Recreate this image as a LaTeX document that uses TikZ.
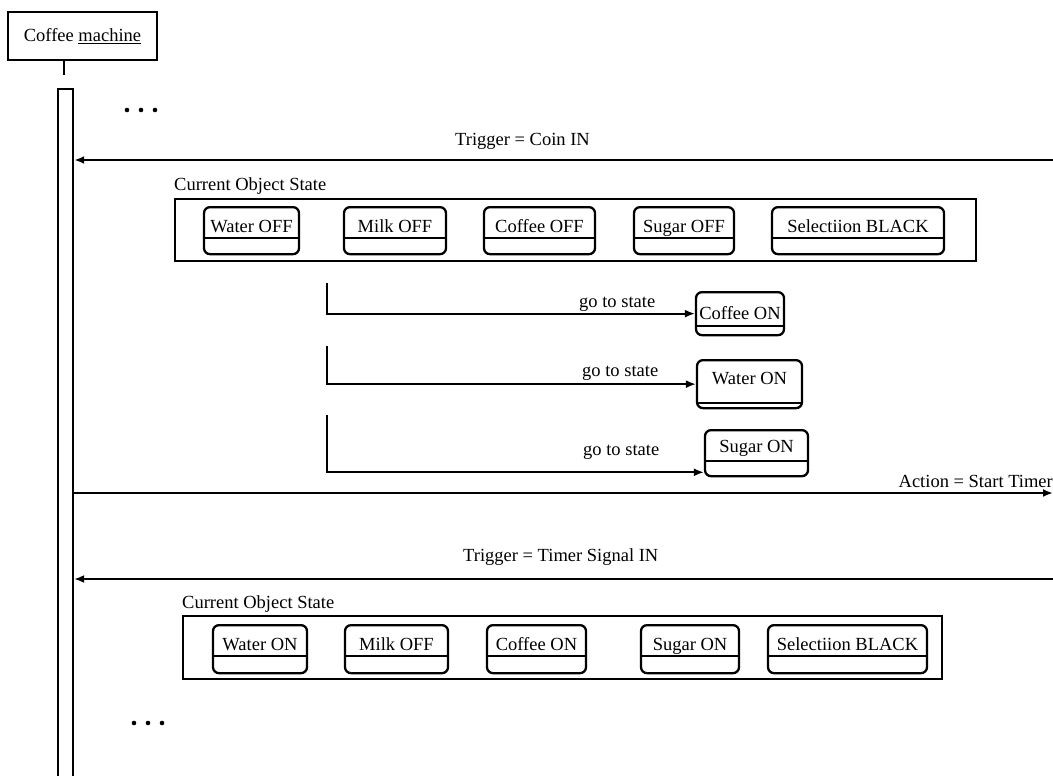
\documentclass[tikz,border=0pt]{standalone}
\usepackage{fontspec}
\setmainfont{Liberation Serif}
\usetikzlibrary{arrows.meta,calc}

\tikzset{
  every node/.style={font=\fontsize{18.5}{22}\selectfont, inner sep=0pt},
  frame/.style={draw, line width=1.8pt, anchor=north west},
  % state box: #1 text height, #2 text depth, #3 height of the divider above the bottom
  sbox/.style n args={3}{draw, line width=2.3pt, rounded corners=6pt, anchor=north,
    text height=#1pt, text depth=#2pt,
    path picture={\draw[line width=2pt]
      ([yshift=#3pt]path picture bounding box.south west) --
      ([yshift=#3pt]path picture bounding box.south east);}},
  msg/.style={line width=1.8pt, -{Latex[length=10pt,width=8pt]}},
  dot/.style={fill=black},
}

\begin{document}
\begin{tikzpicture}[x=1pt, y=-1pt]
\useasboundingbox (0,0) rectangle (1053,776);

% object head and lifeline
\node[draw, line width=2.2pt, minimum width=149pt, minimum height=48pt] (cm) at (82.5,36) {Coffee \underline{machine}};
\coordinate (cmEnd) at (64,75);
\draw[line width=1.5pt] (cm.south -| cmEnd) -- (cmEnd);
\node[draw, line width=2.4pt, fill=white, anchor=north, minimum width=15pt, minimum height=720pt] (life) at (65.5,88) {};

% ellipsis marks
\fill[dot] (127,110) circle (2.3pt) (141,110) circle (2.3pt) (155,110) circle (2.3pt);
\fill[dot] (134,723) circle (2.3pt) (148,723) circle (2.3pt) (162,723) circle (2.3pt);

% incoming trigger: coin
\coordinate (coinR) at (1053,160);
\draw[msg, line width=2.2pt] (coinR) -- (coinR -| life.east);
\node[anchor=base west] (tc) at (455,145) {Trigger = Coin IN};

% current state before the coin
\node[anchor=base west] (lbl1) at (174,190) {Current Object State};
\node[frame, minimum width=801pt, minimum height=62pt] (f1) at (174,198) {};
\node[sbox={25}{22}{16}, minimum width=95pt]  (w1)   at (251.5,206) {Water OFF};
\node[sbox={25}{22}{16}, minimum width=102pt] (m1)   at (395,206)   {Milk OFF};
\node[sbox={25}{22}{16}, minimum width=111pt] (c1)   at (539.5,206) {Coffee OFF};
\node[sbox={25}{22}{16}, minimum width=100pt] (s1)   at (684,206)   {Sugar OFF};
\node[sbox={25}{22}{16}, minimum width=172pt] (sel1) at (858,206)   {Selectiion BLACK};

% state transitions
\node[sbox={27}{16}{9},  minimum width=88pt]  (con) at (740,291)   {Coffee ON};
\node[sbox={24}{24}{5},  minimum width=105pt] (won) at (749.5,359) {Water ON};
\node[sbox={22}{24}{15}, minimum width=103pt] (son) at (756.5,429) {Sugar ON};
\coordinate (g1) at (327,283);
\coordinate (g2) at (327,346);
\coordinate (g3) at (327,415);
\draw[msg] (g1) |- (con.west);
\draw[msg] (g2) |- (won.west);
\draw[msg] (g3) |- ([yshift=5pt]son.south west);
\node[anchor=base west] (gt1) at (579,307) {go to state};
\node[anchor=base west] (gt2) at (582,376) {go to state};
\node[anchor=base west] (gt3) at (583,455) {go to state};

% outgoing action
\coordinate (actR) at (1053,493);
\draw[msg, line width=2.2pt] (actR -| life.east) -- (actR);
\node[anchor=base east] (as) at (1053,487) {Action = Start Timer};

% incoming trigger: timer
\coordinate (timR) at (1053,579);
\draw[msg] (timR) -- (timR -| life.east);
\node[anchor=base west] (tt) at (463,561) {Trigger = Timer Signal IN};

% current state after the timer signal
\node[anchor=base west] (lbl2) at (182,608) {Current Object State};
\node[frame, minimum width=759pt, minimum height=63pt] (f2) at (182,615) {};
\node[sbox={25}{23}{17}, minimum width=94pt]  (w2)   at (260,624)   {Water ON};
\node[sbox={25}{23}{17}, minimum width=103pt] (m2)   at (396.5,624) {Milk OFF};
\node[sbox={25}{23}{17}, minimum width=99pt]  (c2)   at (536.5,624) {Coffee ON};
\node[sbox={25}{23}{17}, minimum width=98pt]  (s2)   at (690,624)   {Sugar ON};
\node[sbox={25}{23}{17}, minimum width=159pt] (sel2) at (847.5,624) {Selectiion BLACK};
\end{tikzpicture}
\end{document}
